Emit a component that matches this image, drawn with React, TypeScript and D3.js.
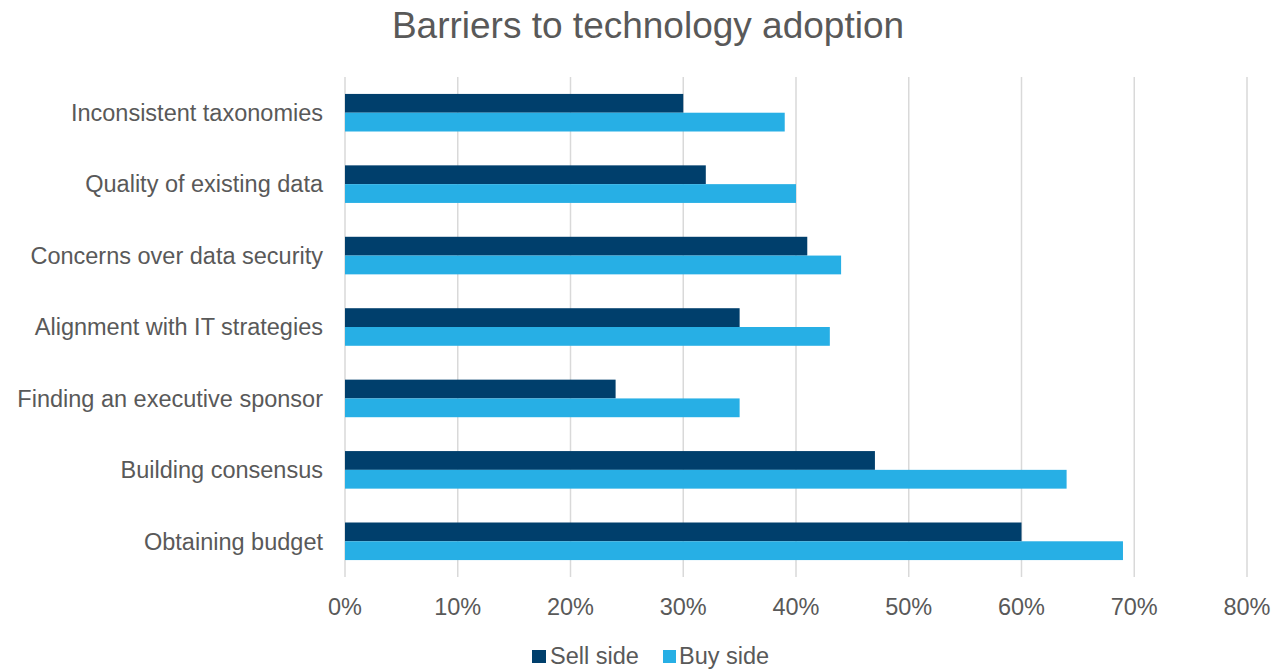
import React from "react";
import * as d3 from "d3";

const categories = [
  "Inconsistent taxonomies",
  "Quality of existing data",
  "Concerns over data security",
  "Alignment with IT strategies",
  "Finding an executive sponsor",
  "Building consensus",
  "Obtaining budget",
];
const sellSide = [30, 32, 41, 35, 24, 47, 60];
const buySide = [39, 40, 44, 43, 35, 64, 69];
const xTicks = [0, 10, 20, 30, 40, 50, 60, 70, 80];
const seriesNames = ["Sell side", "Buy side"];
const seriesColors = ["#003F6C", "#27AFE5"];

const W = 1273;
const H = 669;
const FONT = "'Liberation Sans', Arial, sans-serif";
const TEXT = "#595959";
const FS = 23.5;

export default function App() {
  const left = 345;
  const right = 1247;
  const top = 77;
  const bottom = 577;
  const x = d3.scaleLinear().domain([0, 80]).range([left, right]);
  const y = d3
    .scaleBand<string>()
    .domain(categories)
    .range([top, bottom])
    .paddingInner(0.474)
    .paddingOuter(0.237);
  const sub = d3.scaleBand<number>().domain([0, 1]).range([0, y.bandwidth()]);
  const series = [sellSide, buySide];

  return (
    <svg width={W} height={H} style={{ position: "absolute", left: 0, top: 0 }}>
      <rect width={W} height={H} fill="#fff" />
      <text x={648} y={38} textAnchor="middle" fontFamily={FONT} fontSize={37} fill={TEXT}>
        Barriers to technology adoption
      </text>
      {xTicks.map((t) => (
        <g key={t}>
          <line x1={x(t)} x2={x(t)} y1={top} y2={bottom} stroke="#D9D9D9" strokeWidth={1.5} />
          <text x={x(t)} y={615} textAnchor="middle" fontFamily={FONT} fontSize={FS} fill={TEXT}>
            {t}%
          </text>
        </g>
      ))}
      {categories.map((c, i) => (
        <g key={c}>
          <text
            x={323}
            y={(y(c) as number) + y.bandwidth() / 2}
            dy="0.35em"
            textAnchor="end"
            fontFamily={FONT}
            fontSize={FS}
            fill={TEXT}
          >
            {c}
          </text>
          {series.map((s, j) => (
            <rect
              key={j}
              x={x(0)}
              y={(y(c) as number) + (sub(j) as number)}
              width={x(s[i]) - x(0)}
              height={sub.bandwidth()}
              fill={seriesColors[j]}
            />
          ))}
        </g>
      ))}
      <g>
        <rect x={532} y={650} width={14} height={13} fill={seriesColors[0]} />
        <text x={550} y={664} fontFamily={FONT} fontSize={FS} fill={TEXT}>
          {seriesNames[0]}
        </text>
        <rect x={663} y={650} width={13} height={13} fill={seriesColors[1]} />
        <text x={679} y={664} fontFamily={FONT} fontSize={FS} fill={TEXT}>
          {seriesNames[1]}
        </text>
      </g>
    </svg>
  );
}
